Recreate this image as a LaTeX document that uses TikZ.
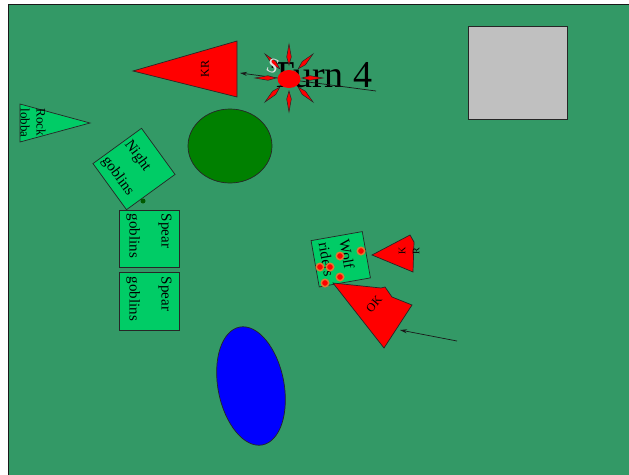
\documentclass[tikz,border=0pt]{standalone}
\usepackage{fontspec}
\setmainfont{Liberation Serif}
\usetikzlibrary{arrows.meta}
\definecolor{board}{RGB}{51,153,102}
\definecolor{lgreen}{RGB}{0,204,102}
\definecolor{dgreen}{RGB}{0,128,0}
\definecolor{silver}{RGB}{192,192,192}
\definecolor{wound}{RGB}{225,120,50}
\begin{document}
\begin{tikzpicture}[x=1pt,y=-1pt,
 outl/.style={draw=black!85, line width=0.7pt},
 unit/.style={outl, fill=lgreen, inner sep=0pt},
 redshape/.style={outl, fill=red},
 lbl/.style={font=\fontsize{15}{30}\selectfont, align=left, inner sep=0pt},
 small/.style={font=\fontsize{10}{12}\selectfont, inner sep=0pt},
 conn/.style={draw=black!90, line width=0.7pt, -{Stealth[length=7pt,width=4pt]}},
 spike/.style={outl, fill=red, line width=0.5pt},
 wnd/.style={circle, fill=red, draw=wound, line width=1.5pt, minimum size=7.5pt, inner sep=0pt},
]
\useasboundingbox (0,0) rectangle (629,474);
\fill[white] (0,0) rectangle (629,474);
\draw[fill=board, draw=black!90, line width=1.2pt] (8.6,4.6) rectangle (640,490);

% grey square
\node[outl, fill=silver, minimum width=99pt, minimum height=93pt, inner sep=0pt] (box) at (517.5,72.5) {};

% green ellipse
\draw[outl, fill=dgreen] (230,146) ellipse [x radius=42pt, y radius=37pt];

% rock lobba
\draw[unit] (20,104) -- (90,123) -- (20,142) -- cycle;
\node[lbl, font=\fontsize{13}{16}\selectfont, rotate=-90] (rl) at (33,123) {Rock\\lobba};

% night goblins
\node[unit, rotate=-54, minimum width=57pt, minimum height=60pt] (ng) at (134,169) {};
\node[lbl, font=\fontsize{15}{28}\selectfont, rotate=-54] (ngt) at (129,168) {Night\\goblins};
\fill[dgreen!70!black] (143,201) circle (2.5pt);

% spear goblins
\node[unit, minimum width=60pt, minimum height=57pt] (sg1) at (149,238.5) {};
\node[lbl, font=\fontsize{15}{32}\selectfont, rotate=-90] (sg1t) at (149,236) {Spear\\goblins};
\node[unit, minimum width=60pt, minimum height=58pt] (sg2) at (149,301.5) {};
\node[lbl, font=\fontsize{15}{32}\selectfont, rotate=-90] (sg2t) at (149,299) {Spear\\goblins};

% big red triangle
\draw[redshape] (133,71) -- (237,41) -- (237,97) -- cycle;
\node[small, rotate=90, font=\fontsize{12}{14}\selectfont] (kr) at (205,69) {KR};

% Turn 4
\node[anchor=base west, inner sep=0pt, font=\fontsize{38}{44}\selectfont] (turn) at (271,87) {Turn 4};
\coordinate (a1s) at (376,91);
\coordinate (a1e) at (240,73);
\draw[conn] (a1s) -- (a1e);

% star
\begin{scope}[shift={(289,78)}]
\foreach \a in {0,45,...,315} {
  \draw[spike, rotate=\a] (13,0) -- (21,2.3) -- (34,0) -- (21,-2.3) -- cycle;
}
\end{scope}
\fill[red] (289,79) ellipse [x radius=11.5pt, y radius=9pt];
\node[font=\fontsize{21}{21}\selectfont, text=black!12, rotate=-20, inner sep=0pt] (s) at (273,66) {S};

% wolf riders
\node[unit, rotate=-80, minimum width=47pt, minimum height=52pt] (wr) at (340.75,259.25) {};
\node[lbl, font=\fontsize{15}{21}\selectfont, rotate=-80] (wrt) at (337,258) {Wolf\\riders};

% small red triangle
\draw[redshape] (372,255) -- (410,235) -- (414,242) -- (413,272) -- cycle;
\node[small, align=center, rotate=90, font=\fontsize{10}{14}\selectfont] (kr2) at (409,251) {K\\R};

% OK triangle
\draw[redshape] (333,283) -- (381,288) -- (385,287) -- (392,297) -- (412,305) -- (384,348) -- cycle;
\node[small, rotate=50, font=\fontsize{12}{12}\selectfont] (ok) at (374,304) {OK};

% wounds
\foreach \p [count=\i] in {(361,251),(340,256),(320,267),(330,267),(340,277),(325,283)}
  \node[wnd] (w\i) at \p {};

\coordinate (a2s) at (457,341);
\coordinate (a2e) at (400,330);
\draw[conn] (a2s) -- (a2e);

% blue ellipse
\draw[outl, fill=blue, rotate around={11:(251,386)}] (251,386) ellipse [x radius=33pt, y radius=60pt];
\end{tikzpicture}
\end{document}
